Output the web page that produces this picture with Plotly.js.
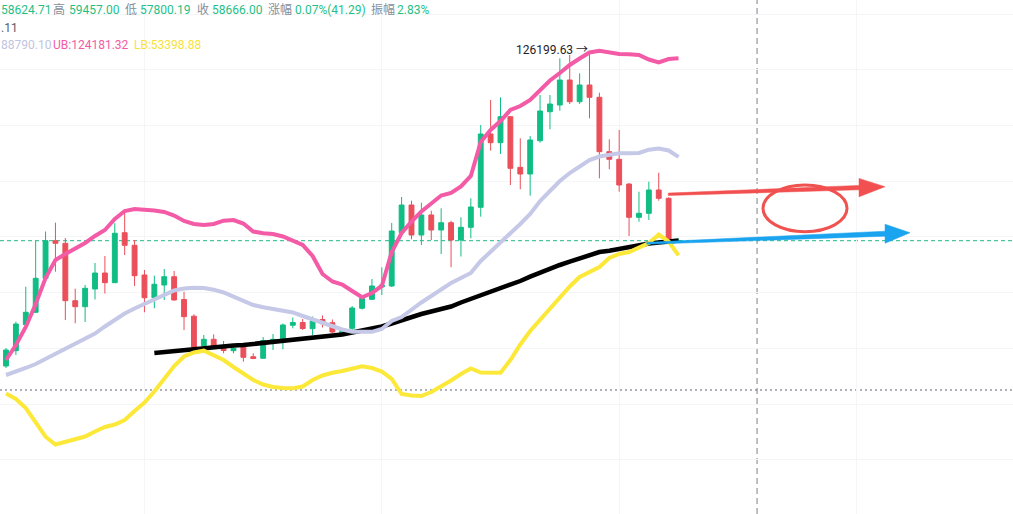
<!DOCTYPE html>
<html>
<head>
<meta charset="utf-8">
<script src="https://cdn.plot.ly/plotly-3.0.1.min.js"></script>
<style>
  html, body { margin: 0; padding: 0; background: #ffffff; }
  #chart { width: 1013px; height: 514px; }
</style>
</head>
<body>
<div id="chart"></div>
<script>
// ---- Data ----
const openPrices = [13660,19160,28490,32950,45160,58670,57730,37120,34960,41320,
  47060,43580,61540,57010,46350,38190,42750,45740,37550,31550,
  20950,23250,20950,19160,20950,17000,16430,22530,22890,28280,
  29280,27060,30360,29210,25410,27200,34390,37620,42040,42400,
  61540,71490,60710,67900,62510,65130,58920,63480,70660,96990,
  93870,103210,85030,82630,94590,105000,107410,116390,108600,114590,
  110180,90640,87910,79030,67070,68510,76880,73900,58624.71];
const highPrices = [20120,29570,42140,58740,61970,65130,59640,41430,42750,50660,
  53170,64920,68720,58920,48140,46100,48500,47780,40350,32230,
  24790,25050,22640,21200,21810,18220,24080,25150,28930,31080,
  30540,31440,31800,30360,27130,35210,38800,44910,49110,65020,
  74360,73040,72320,69440,70310,65850,67070,73900,100230,109210,
  110180,103460,95450,96280,111000,111000,124190,125370,118800,126199.63,
  111830,95090,98430,79290,76270,79860,83090,74260,59457.00];
const lowPrices = [12940,17610,28280,32700,44910,47530,30180,29000,29460,37550,
  39700,43470,53530,42400,32950,34390,37370,37190,26590,19050,
  20590,19770,18220,18220,15200,16100,16280,19410,19660,27200,
  26590,24790,27490,25410,25150,26590,33950,37370,39160,42040,
  61250,59170,57120,58920,53890,49110,52990,59530,67290,91000,
  89810,78670,77130,74830,93870,98680,105360,107770,107770,102630,
  81080,84310,76270,60360,65490,66100,73040,58380,57800.19];
const closePrices = [19410,28750,32950,45160,58670,57730,37120,34960,41570,47060,
  43580,61330,57010,46100,38190,43010,45740,37370,31370,20380,
  23250,20950,19230,20020,16780,16350,22820,23250,28390,29280,
  27130,29820,28850,25870,26410,34490,37910,42400,42750,62150,
  71490,60710,67900,62510,65130,58920,63480,70770,96990,93870,
  103210,84670,82630,94840,105260,107770,116390,108600,114590,110180,
  90640,87910,78670,67070,68510,76880,73900,58620,58666.00];

// Bollinger bands (UB / MB / LB) and the black moving average
const upperBand = [15810,21200,27670,35930,45270,51730,53890,55690,57840,60360,
  62510,66460,69340,70050,69870,69510,68980,67720,65740,64670,
  64310,64670,65850,66100,64850,61970,61330,61070,60180,58740,
  57120,53170,46710,44010,42930,40600,38340,39880,42400,54610,
  61430,65490,69160,72030,74900,75800,78140,81910,94120,98430,
  101660,105610,107050,109210,112800,116210,118900,121780,124110,126270,
  126920,126270,125730,125620,125370,123750,122680,123930,124181.32];
const middleBand = [10430,11500,12940,14380,16170,18150,19950,21380,23180,25330,
  27850,30180,32520,34310,35930,37550,39520,40780,41500,41780,
  41680,41070,40060,38440,36830,35570,34780,34210,33590,32880,
  31620,30430,29210,27850,26770,25940,25800,25940,26950,29820,
  31260,33950,36470,38800,41140,43470,45270,47060,51380,54610,
  58200,61070,64670,68260,72930,76520,80110,82980,85500,87650,
  88910,89450,90060,90060,90170,91350,91790,91070,88790.10];
const lowerBand = [3780,1810,-1430,-6460,-11740,-14540,-13460,-12560,-11670,-9870,
  -8250,-7350,-5740,-2510,550,4500,8810,13660,17070,18510,
  19160,17610,15810,13300,10970,8630,7010,6120,5760,5650,
  6300,8630,10250,11250,11860,12580,13590,12940,11680,8990,
  3600,3060,2880,4320,6300,8450,10790,12760,11320,11140,
  11250,15810,21380,26230,30180,34390,38440,42220,45630,47600,
  49220,52450,53890,54610,56040,57840,60890,58380,53398.88];
const movingAvg = [null,null,null,null,null,null,null,null,null,null,
  null,null,null,null,null,18330,18690,19160,19590,19950,
  20300,20480,20660,21020,21200,21560,21810,22100,22460,22750,
  23180,23540,23970,24440,24970,25690,26300,26950,27850,28930,
  30180,31440,32340,33240,34130,35030,36470,37730,39160,40420,
  41500,42750,44190,45740,47240,48750,49940,51120,52270,53530,
  54610,55080,55790,56510,57120,57660,58020,58380,58740];

const lastClose = 58666.00;
const athValue = 126199.63;
const athIndex = 59;
const supportLevel = 5040;

// header texts
const headerLabels = ['高','低','收','涨幅','振幅'];
const headerValues = ['59457.00','57800.19','58666.00','0.07%(41.29)','2.83%'];
const openText = '58624.71';
const maText = '.11';
const bandTexts = ['88790.10', 'UB:124181.32', 'LB:53398.88'];

const idx = openPrices.map((_, i) => i);

// ---- Styles ----
const GREEN = '#10bd84', RED = '#ea4f5a';
const PINK = '#f35ba6', LAV = '#c5c8e7', YEL = '#fce838';
const W = 1013, H = 514;
const px = v => v / W;           // paper x from pixel
const py = v => 1 - v / H;       // paper y from pixel

const traces = [
  {
    type: 'candlestick', x: idx,
    open: openPrices, high: highPrices, low: lowPrices, close: closePrices,
    increasing: { line: { color: GREEN, width: 1 }, fillcolor: GREEN },
    decreasing: { line: { color: RED, width: 1 }, fillcolor: RED },
    whiskerwidth: 0, hoverinfo: 'skip', showlegend: false
  },
  { type: 'scatter', mode: 'lines', x: idx, y: movingAvg,
    line: { color: '#000000', width: 4.5 }, hoverinfo: 'skip', showlegend: false },
  { type: 'scatter', mode: 'lines', x: idx, y: middleBand,
    line: { color: LAV, width: 4 }, hoverinfo: 'skip', showlegend: false },
  { type: 'scatter', mode: 'lines', x: idx, y: upperBand,
    line: { color: PINK, width: 4 }, hoverinfo: 'skip', showlegend: false },
  { type: 'scatter', mode: 'lines', x: idx, y: lowerBand,
    line: { color: YEL, width: 4 }, hoverinfo: 'skip', showlegend: false }
];

const baseFont = { family: 'Roboto, "Noto Sans CJK SC", sans-serif', size: 12 };
function txt(text, x, y, color, anchor) {
  return { xref: 'paper', yref: 'paper', x: px(x), y: py(y), text: text,
    showarrow: false, xanchor: anchor || 'left', yanchor: 'middle',
    borderpad: 0, borderwidth: 0,
    font: Object.assign({}, baseFont, { color: color }) };
}
const GRAY = '#848e9c', HGREEN = '#1fbf86';
const labelX = [53.3, 125, 197, 268, 371];
const valueX = [69, 140, 212, 295, 397];
const annotations = [ txt(openText, 0.5, 9.5, HGREEN) ];
headerLabels.forEach((t, i) => annotations.push(txt(t, labelX[i], 9.5, GRAY)));
headerValues.forEach((t, i) => annotations.push(txt(t, valueX[i], 9.5, HGREEN)));
annotations.push(txt(maText, 0.5, 27.5, '#5b6068'));
annotations.push(txt(bandTexts[0], 0.5, 45.3, '#c0c4e2'));
annotations.push(txt(bandTexts[1], 53.3, 45.3, PINK));
annotations.push(txt(bandTexts[2], 134.3, 45.3, '#f7e23c'));
annotations.push({
  xref: 'x', yref: 'y', x: athIndex, y: athValue, text: '126199.63 →',
  showarrow: false, xanchor: 'right', yanchor: 'middle', xshift: -2, yshift: 3,
  borderpad: 0, borderwidth: 0,
  font: Object.assign({}, baseFont, { color: '#1e2329' })
});

const shapes = [
  { type: 'line', xref: 'paper', x0: 0, x1: 1, yref: 'y', y0: lastClose, y1: lastClose,
    line: { color: '#22b884', width: 1, dash: '4px,3px' }, layer: 'below' },
  { type: 'line', xref: 'paper', x0: 0, x1: 1, yref: 'y', y0: supportLevel, y1: supportLevel,
    line: { color: '#5d6470', width: 1, dash: '2px,3px' }, layer: 'below' },
  { type: 'line', xref: 'x', x0: 75.94, x1: 75.94, yref: 'paper', y0: 0, y1: 1,
    line: { color: '#7c8089', width: 1, dash: '6px,4px' }, layer: 'below' },
  { type: 'circle', xref: 'x', yref: 'y', x0: 76.54, x1: 85.04, y0: 61900, y1: 78670,
    line: { color: '#ef5350', width: 3 } },
  { type: 'path', xref: 'x', yref: 'y', xsizemode: 'pixel', ysizemode: 'pixel',
    xanchor: 88.88, yanchor: 78063,
    path: 'M0,0 L-26,8.3 L-26,1.3 L-216.7,-6.4 L-216.7,-8.8 L-26,-3.1 L-26,-10.1 Z',
    fillcolor: '#f25050', line: { color: '#f25050', width: 0.5 } },
  { type: 'path', xref: 'x', yref: 'y', xsizemode: 'pixel', ysizemode: 'pixel',
    xanchor: 91.41, yanchor: 61540,
    path: 'M0,0 L-25,8.5 L-25,1.5 L-263.3,-9.6 L-263.3,-11.6 L-25,-3.5 L-25,-10.5 Z',
    fillcolor: '#1aa3ee', line: { color: '#1aa3ee', width: 0.5 } }
];

const layout = {
  width: W, height: H,
  margin: { l: 0, r: 0, t: 0, b: 0, pad: 0 },
  paper_bgcolor: '#ffffff', plot_bgcolor: '#ffffff',
  showlegend: false,
  xaxis: { range: [-0.607, 101.82], showticklabels: false, zeroline: false,
    showgrid: true, gridcolor: '#f4f5f7', tick0: 14, dtick: 24,
    rangeslider: { visible: false }, fixedrange: true, showline: false },
  yaxis: { range: [-39503, 145126], showticklabels: false, zeroline: false,
    showgrid: true, gridcolor: '#f4f5f7', tick0: 0, dtick: 20000,
    fixedrange: true, showline: false },
  shapes: shapes,
  annotations: annotations
};

Plotly.newPlot('chart', traces, layout, { displayModeBar: false, staticPlot: true });
</script>
</body>
</html>
